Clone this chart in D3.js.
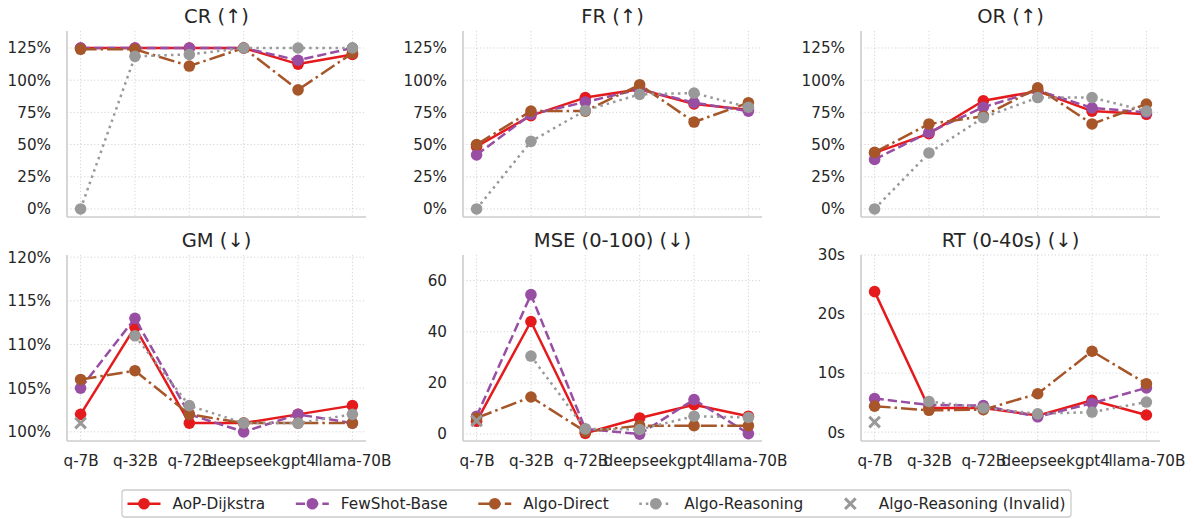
<!DOCTYPE html>
<html>
<head>
<meta charset="utf-8">
<script src="https://cdn.jsdelivr.net/npm/d3@7"></script>
<style>
  html, body { margin: 0; padding: 0; background: #fff; }
  svg { display: block; font-family: "DejaVu Sans", sans-serif; }
</style>
</head>
<body>
<svg id="chart" width="1194" height="519"></svg>
<script>
// ---------------- data ----------------
const categories = ["q-7B", "q-32B", "q-72B", "deepseek", "gpt4", "llama-70B"];
const seriesNames = ["AoP-Dijkstra", "FewShot-Base", "Algo-Direct", "Algo-Reasoning"];
const invalidName = "Algo-Reasoning (Invalid)";
const metricTitles = ["CR (\u2191)", "FR (\u2191)", "OR (\u2191)", "GM (\u2193)", "MSE (0-100) (\u2193)", "RT (0-40s) (\u2193)"];

// values per metric, rows in seriesNames order
const crValues = [
  [125, 125, 125, 125, 112.5, 120],
  [125, 125, 125, 125, 115.5, 125],
  [124, 124, 111, 125, 92.5, 121],
  [0, 118.5, 120, 125, 125, 125]
];
const frValues = [
  [48.5, 72.5, 86.5, 93, 81.5, 77],
  [42, 73.5, 83, 93, 82.5, 76],
  [50, 76, 76, 96.5, 67.5, 82.5],
  [0, 52.5, 76.5, 89, 90, 79]
];
const orValues = [
  [43.5, 58.5, 84, 91.5, 76, 73.5],
  [38.5, 59.5, 79, 92, 78.5, 75],
  [44, 66, 72, 94, 66, 81.5],
  [0, 43.5, 71, 86.5, 86.5, 76]
];
const gmValues = [
  [102, 112, 101, 101, 102, 103],
  [105, 113, 102, 100, 102, 101],
  [106, 107, 102, 101, 101, 101],
  [null, 111, 103, 101, 101, 102]
];
const mseValues = [
  [5, 44, 0.3, 6.3, 11.5, 7],
  [7, 54.5, 2, 0, 13.5, 0.2],
  [6.3, 14.5, 1, 3.3, 3.3, 3.3],
  [null, 30.5, 2, 1.8, 7, 6.5]
];
const rtValues = [
  [23.8, 4.1, 4.1, 2.8, 5.4, 2.9],
  [5.7, 4.6, 4.5, 2.6, 4.9, 7.5],
  [4.4, 3.7, 3.8, 6.5, 13.7, 8.2],
  [null, 5.2, 4.1, 3.1, 3.4, 5.1]
];
// invalid (x-marker) points of Algo-Reasoning
const gmInvalid = [101, null, null, null, null, null];
const mseInvalid = [5.2, null, null, null, null, null];
const rtInvalid = [1.7, null, null, null, null, null];

const pctTicks = [0, 25, 50, 75, 100, 125];
const gmTicks = [100, 105, 110, 115, 120];
const mseTicks = [0, 20, 40, 60];
const rtTicks = [0, 10, 20, 30];

// ---------------- styles / layout ----------------
const colors = ["#e41a1c", "#984ea3", "#a65628", "#999999"];
const dashes = [null, "9.25,4", "16,4,2.5,4", "2.5,4.1"];
const lineW = 2.5, markerR = 5.8;
const textColor = "#262626";
const gridColor = "#d4d4d4";
const spineColor = "#cccccc";

const colLeft = [67, 463, 861];
const panelW = 299;
const rowTop = [31, 255];
const panelH = 186;

const panels = [
  { title: metricTitles[0], values: crValues, invalid: null, ticks: pctTicks, domain: [-6.25, 138.2], fmt: d => d + "%" },
  { title: metricTitles[1], values: frValues, invalid: null, ticks: pctTicks, domain: [-6.25, 138.2], fmt: d => d + "%" },
  { title: metricTitles[2], values: orValues, invalid: null, ticks: pctTicks, domain: [-6.25, 138.2], fmt: d => d + "%" },
  { title: metricTitles[3], values: gmValues, invalid: gmInvalid, ticks: gmTicks, domain: [98.95, 120.25], fmt: d => d + "%" },
  { title: metricTitles[4], values: mseValues, invalid: mseInvalid, ticks: mseTicks, domain: [-2.7, 70], fmt: d => String(d) },
  { title: metricTitles[5], values: rtValues, invalid: rtInvalid, ticks: rtTicks, domain: [-1.5, 30], fmt: d => d + "s" }
];

const svg = d3.select("#chart");

function xMark(g, cx, cy, s, color, w) {
  g.append("path")
    .attr("d", `M${cx - s},${cy - s}L${cx + s},${cy + s}M${cx - s},${cy + s}L${cx + s},${cy - s}`)
    .attr("stroke", color).attr("stroke-width", w).attr("fill", "none");
}

panels.forEach((p, i) => {
  const row = Math.floor(i / 3), col = i % 3;
  const left = colLeft[col], top = rowTop[row];
  const right = left + panelW, bottom = top + panelH;

  const x = d3.scalePoint().domain(categories).range([left, right]).padding(0.25);
  const y = d3.scaleLinear().domain(p.domain).range([bottom, top]);

  const g = svg.append("g");

  // grid
  g.append("g").selectAll("line.v").data(categories).join("line")
    .attr("x1", d => x(d)).attr("x2", d => x(d))
    .attr("y1", top).attr("y2", bottom)
    .attr("stroke", gridColor).attr("stroke-width", 1).attr("stroke-dasharray", "1.2,2.2");
  g.append("g").selectAll("line.h").data(p.ticks).join("line")
    .attr("x1", left).attr("x2", right)
    .attr("y1", d => y(d)).attr("y2", d => y(d))
    .attr("stroke", gridColor).attr("stroke-width", 1).attr("stroke-dasharray", "1.2,2.2");

  // y axis
  const yAxis = d3.axisLeft(y).tickValues(p.ticks).tickSize(0).tickPadding(16).tickFormat(p.fmt);
  const ya = g.append("g").attr("transform", `translate(${left},0)`).call(yAxis);
  ya.select(".domain").remove();
  ya.selectAll("text").attr("fill", textColor).style("font-size", "15.2px").style("font-family", "DejaVu Sans");

  // x axis labels only on bottom row
  if (row === 1) {
    const xAxis = d3.axisBottom(x).tickSize(0).tickPadding(14);
    const xa = g.append("g").attr("transform", `translate(0,${bottom})`).call(xAxis);
    xa.select(".domain").remove();
    xa.selectAll("text").attr("fill", textColor).style("font-size", "15.2px").style("font-family", "DejaVu Sans");
  }

  // spines
  g.append("line").attr("x1", left).attr("x2", left).attr("y1", top).attr("y2", bottom)
    .attr("stroke", spineColor).attr("stroke-width", 1.6);
  g.append("line").attr("x1", left).attr("x2", right).attr("y1", bottom).attr("y2", bottom)
    .attr("stroke", spineColor).attr("stroke-width", 1.6);

  // title
  g.append("text").attr("x", (left + right) / 2).attr("y", top - 8.5)
    .attr("text-anchor", "middle").attr("fill", textColor)
    .style("font-size", "19.5px").text(p.title);

  // series
  const line = d3.line().defined(d => d.v != null).x(d => x(d.c)).y(d => y(d.v));
  p.values.forEach((vals, s) => {
    const pts = vals.map((v, j) => ({ c: categories[j], v }));
    const sg = g.append("g");
    sg.append("path").datum(pts).attr("d", line)
      .attr("fill", "none").attr("stroke", colors[s]).attr("stroke-width", lineW)
      .attr("stroke-dasharray", dashes[s]).attr("stroke-linejoin", "round");
    sg.selectAll("circle").data(pts.filter(d => d.v != null)).join("circle")
      .attr("cx", d => x(d.c)).attr("cy", d => y(d.v)).attr("r", markerR)
      .attr("fill", colors[s]);
  });

  if (p.invalid) {
    p.invalid.forEach((v, j) => {
      if (v == null) return;
      xMark(g, x(categories[j]), y(v), 5.3, colors[3], 3);
    });
  }
});

// ---------------- legend ----------------
const legendItems = seriesNames.map((n, s) => ({ name: n, s })).concat([{ name: invalidName, s: -1 }]);
const fs = 15.3;
const handleLen = 33, textPad = 12, borderPad = 5.5;
const legendLeft = 122, legendRight = 1071;
const lg = svg.append("g");
const box = lg.append("rect");
const legendY = 503.7;
const entries = legendItems.map(it => {
  const eg = lg.append("g");
  const t = eg.append("text").attr("x", handleLen + textPad).attr("y", legendY)
    .attr("dy", "0.36em").attr("fill", textColor).style("font-size", fs + "px").text(it.name);
  if (it.s >= 0) {
    eg.append("line").attr("x1", 0).attr("x2", handleLen).attr("y1", legendY).attr("y2", legendY)
      .attr("stroke", colors[it.s]).attr("stroke-width", lineW).attr("stroke-dasharray", dashes[it.s]);
    eg.append("circle").attr("cx", handleLen / 2).attr("cy", legendY).attr("r", markerR).attr("fill", colors[it.s]);
  } else {
    xMark(eg, handleLen / 2, legendY, 5.3, colors[3], 3);
  }
  return { eg, w: handleLen + textPad + t.node().getComputedTextLength() };
});
const innerW = legendRight - legendLeft - 2 * borderPad;
const colSpace = (innerW - d3.sum(entries, e => e.w)) / (entries.length - 1);
let cx = legendLeft + borderPad;
entries.forEach(e => { e.eg.attr("transform", `translate(${cx},0)`); cx += e.w + colSpace; });
box.attr("x", legendLeft).attr("y", 490).attr("width", legendRight - legendLeft).attr("height", 27)
  .attr("rx", 3).attr("fill", "#fff").attr("stroke", "#cccccc").attr("stroke-width", 1.3);
</script>
</body>
</html>
